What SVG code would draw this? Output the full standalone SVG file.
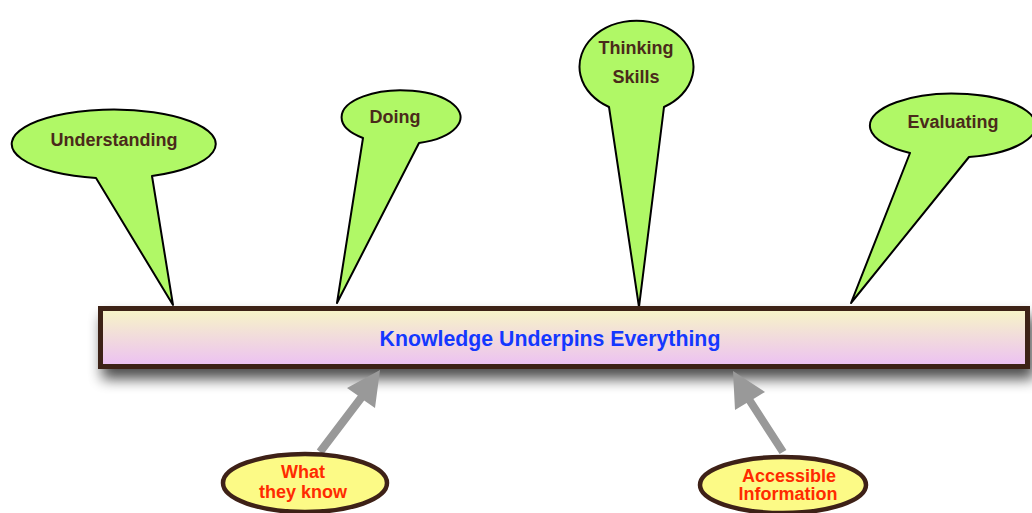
<svg xmlns="http://www.w3.org/2000/svg" width="1032" height="513" viewBox="0 0 1032 513">
<defs>
<linearGradient id="barGrad" x1="0" y1="0" x2="0" y2="1">
<stop offset="0" stop-color="#f7f6c6"/>
<stop offset="1" stop-color="#ecc0f3"/>
</linearGradient>
<filter id="shadow" x="-5%" y="-30%" width="110%" height="190%">
<feGaussianBlur in="SourceAlpha" stdDeviation="7"/>
<feOffset dx="4" dy="10" result="b"/>
<feComponentTransfer><feFuncA type="linear" slope="0.7"/></feComponentTransfer>
<feMerge><feMergeNode/><feMergeNode in="SourceGraphic"/></feMerge>
</filter>
</defs>
<style>
.bubble{fill:#b0f866;stroke:#000;stroke-width:2;stroke-linejoin:round}
.blabel{font-family:"Liberation Sans",Arial,sans-serif;font-weight:bold;font-size:18px;fill:#4a2a1a;text-anchor:middle}
.oval{fill:#fcfa86;stroke:#3e2117;stroke-width:4.5}
.olabel{font-family:"Liberation Sans",Arial,sans-serif;font-weight:bold;font-size:18px;fill:#ff2a00;text-anchor:middle}
.conn{fill:#999999;stroke:none}
</style>
<rect width="1032" height="513" fill="#ffffff"/>

<g id="understanding">
<path class="bubble" d="M96,178 A102,34.5 0 1 1 152,176 L173,305 Z"/>
<text class="blabel" x="114" y="146">Understanding</text>
</g>

<g id="doing">
<path class="bubble" d="M363,138 A59.5,27 0 1 1 419,143 L337,303 Z"/>
<text class="blabel" x="395" y="123">Doing</text>
</g>

<g id="thinking-skills">
<path class="bubble" d="M609,107 A57,46 0 1 1 664,107 L639,307 Z"/>
<text class="blabel" x="636" y="54">Thinking</text>
<text class="blabel" x="636" y="83">Skills</text>
</g>

<g id="evaluating">
<path class="bubble" d="M910,153 A83,32 0 1 1 969,157 L851,303 Z"/>
<text class="blabel" x="953" y="128">Evaluating</text>
</g>

<g id="knowledge">
<rect x="100.5" y="308.5" width="927" height="58" fill="url(#barGrad)" stroke="#3e2117" stroke-width="5" filter="url(#shadow)"/>
<text x="550" y="346" font-family="Liberation Sans, Arial, sans-serif" font-weight="bold" font-size="21.3" fill="#1438ff" text-anchor="middle">Knowledge Underpins Everything</text>
</g>

<g id="connectors">
<polygon class="conn" points="316.8,449.6 323.2,454.4 364.2,400.4 375,408 380,370 347,388 357.8,395.6"/>
<polygon class="conn" points="786.4,449.9 779.6,454.1 746.6,403.1 735,410 733,371 765,392 753.4,398.9"/>
</g>

<g id="what-they-know">
<ellipse class="oval" cx="305" cy="483" rx="82" ry="29"/>
<text class="olabel" x="303" y="478">What</text>
<text class="olabel" x="303" y="498">they know</text>
</g>

<g id="accessible-information">
<ellipse class="oval" cx="783" cy="485" rx="83" ry="28"/>
<text class="olabel" x="789" y="482">Accessible</text>
<text class="olabel" x="788" y="500">Information</text>
</g>
</svg>
